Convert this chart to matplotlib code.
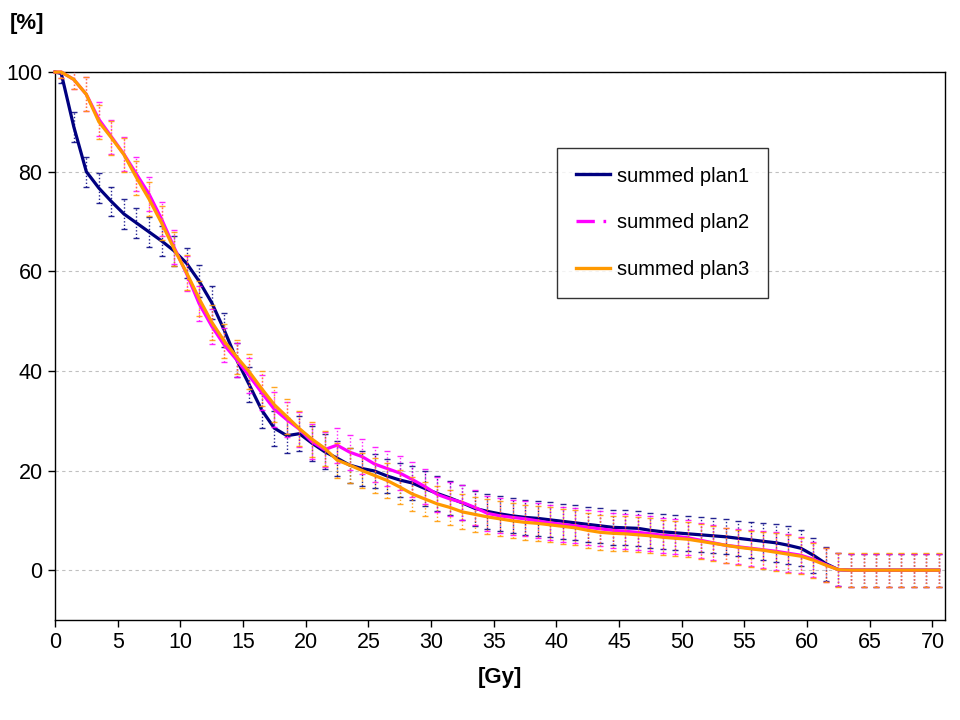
import matplotlib
matplotlib.use("Agg")
import matplotlib.pyplot as plt
from matplotlib.lines import Line2D

plt.rcParams["font.family"] = ["Liberation Sans", "DejaVu Sans"]

# dose grid [Gy]
dose = [0] + [k + 0.5 for k in range(71)]

# volume [%]
plan1 = [100, 99.7, 89.0, 80.0, 76.7, 74.0, 71.5, 69.7, 67.9, 66.1,
         64.1, 61.6, 58.0, 53.7, 48.2, 42.2, 37.2, 32.1, 28.5, 27.0,
         27.4, 25.5, 23.8, 22.5, 21.1, 20.4, 19.9, 18.9, 18.1, 17.5,
         16.4, 15.4, 14.5, 13.5, 12.4, 11.8, 11.3, 10.9, 10.6, 10.4,
         10.1, 9.8, 9.5, 9.2, 8.9, 8.6, 8.5, 8.4, 8.0, 7.7,
         7.5, 7.3, 7.1, 6.9, 6.7, 6.4, 6.1, 5.8, 5.5, 5.0,
         4.4, 3.0, 1.3, 0.1, 0, 0, 0, 0, 0, 0,
         0, 0]
plan2 = [100, 100, 98.5, 95.5, 90.5, 87.0, 83.5, 79.5, 75.5, 70.5,
         64.8, 59.5, 53.5, 49.0, 45.2, 42.2, 39.0, 35.6, 32.3, 30.2,
         28.3, 25.8, 24.2, 25.1, 23.7, 22.8, 21.3, 20.4, 19.5, 18.2,
         16.8, 15.2, 14.3, 13.6, 12.6, 11.4, 10.9, 10.6, 10.3, 9.9,
         9.5, 9.2, 8.9, 8.6, 8.3, 8.0, 7.8, 7.6, 7.3, 7.0,
         6.8, 6.5, 6.0, 5.5, 5.0, 4.7, 4.4, 4.1, 3.8, 3.4,
         3.0, 2.2, 1.1, 0.1, 0, 0, 0, 0, 0, 0,
         0, 0]
plan3 = [100, 100, 98.5, 95.5, 90.0, 86.8, 83.4, 78.8, 74.5, 69.7,
         64.5, 59.7, 54.5, 49.8, 46.0, 42.8, 39.8, 36.4, 33.2, 30.8,
         28.4, 26.3, 24.5, 22.1, 21.1, 20.0, 19.0, 18.0, 16.7, 15.3,
         14.3, 13.3, 12.6, 11.7, 11.2, 10.7, 10.3, 9.9, 9.6, 9.4,
         9.1, 8.8, 8.5, 8.0, 7.6, 7.4, 7.3, 7.1, 6.9, 6.6,
         6.4, 6.2, 5.8, 5.4, 5.0, 4.6, 4.3, 4.0, 3.6, 3.2,
         2.8, 2.0, 1.0, 0.1, 0, 0, 0, 0, 0, 0,
         0, 0]

# standard deviations (error bars)
err1 = [0, 2.0, 3.0, 3.0, 3.0, 3.0, 3.0, 3.0, 3.0, 3.0,
        3.0, 3.0, 3.2, 3.3, 3.4, 3.5, 3.5, 3.5, 3.5, 3.5,
        3.5, 3.5, 3.5, 3.5, 3.5, 3.5, 3.5, 3.5, 3.5, 3.5,
        3.5, 3.5, 3.5, 3.5, 3.5, 3.5, 3.5, 3.5, 3.5, 3.5,
        3.5, 3.5, 3.5, 3.5, 3.5, 3.5, 3.5, 3.5, 3.5, 3.5,
        3.5, 3.5, 3.5, 3.5, 3.5, 3.5, 3.6, 3.7, 3.8, 3.8,
        3.6, 3.5, 3.4, 3.3, 3.3, 3.3, 3.3, 3.3, 3.3, 3.3,
        3.3, 3.3]
err2 = [0, 1.2, 2.0, 3.4, 3.4, 3.4, 3.4, 3.4, 3.4, 3.4,
        3.4, 3.5, 3.5, 3.5, 3.5, 3.5, 3.5, 3.5, 3.5, 3.5,
        3.5, 3.5, 3.5, 3.5, 3.5, 3.5, 3.5, 3.5, 3.5, 3.5,
        3.5, 3.5, 3.5, 3.5, 3.5, 3.5, 3.5, 3.5, 3.5, 3.5,
        3.5, 3.5, 3.5, 3.5, 3.5, 3.5, 3.5, 3.5, 3.5, 3.5,
        3.5, 3.5, 3.5, 3.5, 3.5, 3.5, 3.6, 3.7, 3.8, 3.8,
        3.6, 3.5, 3.4, 3.3, 3.3, 3.3, 3.3, 3.3, 3.3, 3.3,
        3.3, 3.3]
err3 = [0, 1.2, 2.0, 3.4, 3.4, 3.4, 3.4, 3.4, 3.4, 3.4,
        3.4, 3.5, 3.5, 3.5, 3.5, 3.5, 3.5, 3.5, 3.5, 3.5,
        3.5, 3.5, 3.5, 3.5, 3.5, 3.5, 3.5, 3.5, 3.5, 3.5,
        3.5, 3.5, 3.5, 3.5, 3.5, 3.5, 3.5, 3.5, 3.5, 3.5,
        3.5, 3.5, 3.5, 3.5, 3.5, 3.5, 3.5, 3.5, 3.5, 3.5,
        3.5, 3.5, 3.5, 3.5, 3.5, 3.5, 3.6, 3.7, 3.8, 3.8,
        3.6, 3.5, 3.4, 3.4, 3.4, 3.4, 3.4, 3.4, 3.4, 3.4,
        3.4, 3.4]

labels = ["summed plan1", "summed plan2", "summed plan3"]
colors = ["#000080", "#FF00FF", "#FF9900"]


def main() -> None:
    fig = plt.figure(figsize=(9.6, 7.2), dpi=100)
    ax = fig.add_axes([55 / 960, 1 - 620 / 720, 890 / 960, 548 / 720])

    series = [(plan1, err1), (plan2, err2), (plan3, err3)]
    for i, ((vals, errs), c) in enumerate(zip(series, colors)):
        eb = ax.errorbar(dose, vals, yerr=errs, fmt="none", ecolor=c,
                         elinewidth=1.0, capsize=2.5, capthick=1.0,
                         alpha=0.85, zorder=2 + 2 * i)
        eb[2][0].set_linestyle((0, (1, 1.5)))
        ax.plot(dose, vals, color=c, lw=2.3, solid_joinstyle="round",
                zorder=3 + 2 * i, clip_on=False)

    ax.set_xlim(0, 71)
    ax.set_ylim(-10, 100)
    ax.set_xticks(range(0, 71, 5))
    ax.set_yticks(range(0, 101, 20))
    ax.tick_params(labelsize=15.5, direction="out", length=5, width=1,
                   colors="black", pad=4)
    ax.yaxis.grid(True, color="#c0c0c0", linestyle=(0, (3, 3)), lw=0.8)
    ax.set_axisbelow(True)
    for s in ax.spines.values():
        s.set_linewidth(1.0)
        s.set_color("black")

    ax.set_xlabel("[Gy]", fontsize=16, fontweight="bold", labelpad=10)
    fig.text(10 / 960, 1 - 34 / 720, "[%]", fontsize=16, fontweight="bold",
             ha="left", va="bottom")

    handles = [
        Line2D([], [], color=colors[0], lw=2.4),
        Line2D([], [], color=colors[1], lw=2.4, dashes=(5.5, 2.6, 0.8, 2)),
        Line2D([], [], color=colors[2], lw=2.4),
    ]
    leg = ax.legend(handles, labels, loc="upper left",
                    bbox_to_anchor=((557 - 55) / 890, (620 - 148) / 548),
                    borderaxespad=0, fontsize=14.5, frameon=True, fancybox=False,
                    edgecolor="black", handlelength=1.7, handletextpad=0.35,
                    labelspacing=1.38, borderpad=0.92)
    leg.get_frame().set_linewidth(1.0)

    fig.savefig("out.png", dpi=100, facecolor="white")


if __name__ == "__main__":
    main()
